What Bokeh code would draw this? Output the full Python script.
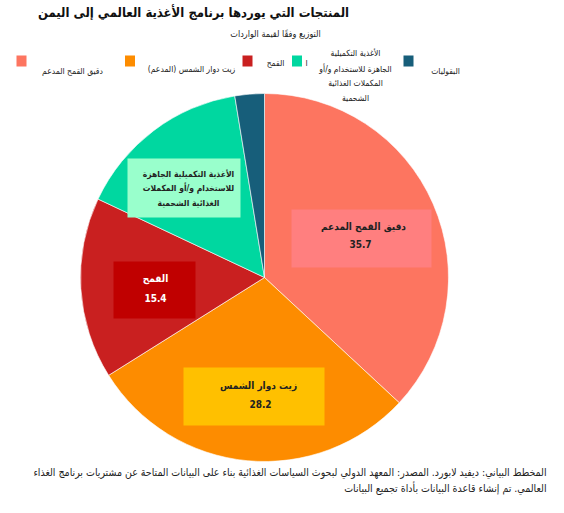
import numpy as np
from bokeh.plotting import figure
from bokeh.models import Range1d, ColumnDataSource
from bokeh.core.properties import value
from bokeh.embed import file_html
from bokeh.resources import INLINE

title = "المنتجات التي يوردها برنامج الأغذية العالمي إلى اليمن"
subtitle = "التوزيع وفقًا لقيمة الواردات"
categories = ["دقيق القمح المدعم", "زيت دوار الشمس (المدعم)", "القمح",
              "الأغذية التكميلية الجاهزة للاستخدام و/أو المكملات الغذائية الشحمية",
              "البقوليات"]
values = [35.7, 28.2, 15.4, 14.9, 2.5]
colors = ["#FD7560", "#FD8C00", "#C92020", "#00D7A0", "#175E7A"]
box_colors = ["#FF7F7F", "#FFC000", "#C00000", "#99FFCC"]
label_names = ["دقيق القمح المدعم", "زيت دوار الشمس", "القمح"]
supp_label_lines = ["الأغذية التكميلية الجاهزة", "للاستخدام و/أو المكملات", "الغذائية الشحمية"]
legend_supp_lines = ["الأغذية التكميلية", "الجاهزة للاستخدام و/أو", "المكملات الغذائية", "الشحمية"]
footer1 = "المخطط البياني: ديفيد لابورد. المصدر: المعهد الدولي لبحوث السياسات الغذائية بناء على البيانات المتاحة عن مشتريات برنامج الغذاء"
footer2 = "العالمي. تم إنشاء قاعدة البيانات بأداة تجميع البيانات"

W, H = 548, 497
FONT = "DejaVu Sans Condensed"

p = figure(width=W, height=H, output_backend="svg", toolbar_location=None,
           x_range=Range1d(0, W), y_range=Range1d(0, H),
           x_axis_type=None, y_axis_type=None, min_border=0)
p.outline_line_color = None
p.grid.visible = False

def X(ix):
    return ix

def Y(iy):
    return H - iy

# pie
vals = np.array(values)
frac = vals / vals.sum()
cum = np.concatenate([[0], np.cumsum(frac)])
start = np.pi / 2 - 2 * np.pi * cum[:-1]
end = np.pi / 2 - 2 * np.pi * cum[1:]
src = ColumnDataSource(dict(start=start, end=end, color=colors, cat=categories))
p.wedge(x=X(264), y=Y(277), radius=184, start_angle="start", end_angle="end",
        direction="clock", fill_color="color", line_color="white", line_width=0.6,
        source=src)

# label boxes
boxes = [(361, 238, 140, 58), (253.5, 396, 141, 58), (154, 289.5, 82, 57), (183.5, 187.5, 113, 59)]
for (cx, cy, w, h), c in zip(boxes, box_colors):
    p.rect(x=X(cx), y=Y(cy), width=w, height=h, fill_color=c, line_color=None)

def txt(ix, iy, s, size="11px", bold=False, color="#222222", align="center"):
    p.text(x=[X(ix)], y=[Y(iy)], text=[s], text_font=value(FONT),
           text_font_size=size, text_font_style="bold" if bold else "normal",
           text_color=color, text_align=align, text_baseline="middle")

# slice labels
txt(363, 226, label_names[0], size="10px", bold=True)
txt(360, 243, f"{values[0]}", size="10px", bold=True)
txt(258, 385, label_names[1], size="10px", bold=True)
txt(260, 403, f"{values[1]}", size="10px", bold=True)
txt(155, 278, label_names[2], size="10px", bold=True, color="white")
txt(155, 297, f"{values[2]}", size="10px", bold=True, color="white")
for iy, s in zip([173, 187, 202], supp_label_lines):
    txt(188, iy, s, size="8.5px", bold=True)

# title
txt(193, 12, title, size="13px", bold=True, color="#111111")
txt(275, 33, subtitle, size="9px", color="#222222")

# legend
sq = [(21, 60.5), (129.5, 60.5), (247, 60.5), (296.5, 60.5), (408, 60.5)]
for (cx, cy), c in zip(sq, colors):
    p.rect(x=X(cx), y=Y(cy), width=10, height=11, fill_color=c, line_color=None)
LS = "8.5px"
txt(72, 70, categories[0], size=LS)
txt(191, 68, categories[1], size=LS)
txt(275, 62, categories[2], size=LS)
txt(306, 62, "ا", size=LS)
for iy, s in zip([52, 68, 82, 97], legend_supp_lines):
    txt(355, iy, s, size=LS)
txt(445, 70, categories[4], size=LS)

# footer
txt(546, 471, footer1, size="10.5px", align="right")
txt(546, 487, footer2, size="10.5px", align="right")

open("out.html", "w").write(file_html(p, INLINE))
